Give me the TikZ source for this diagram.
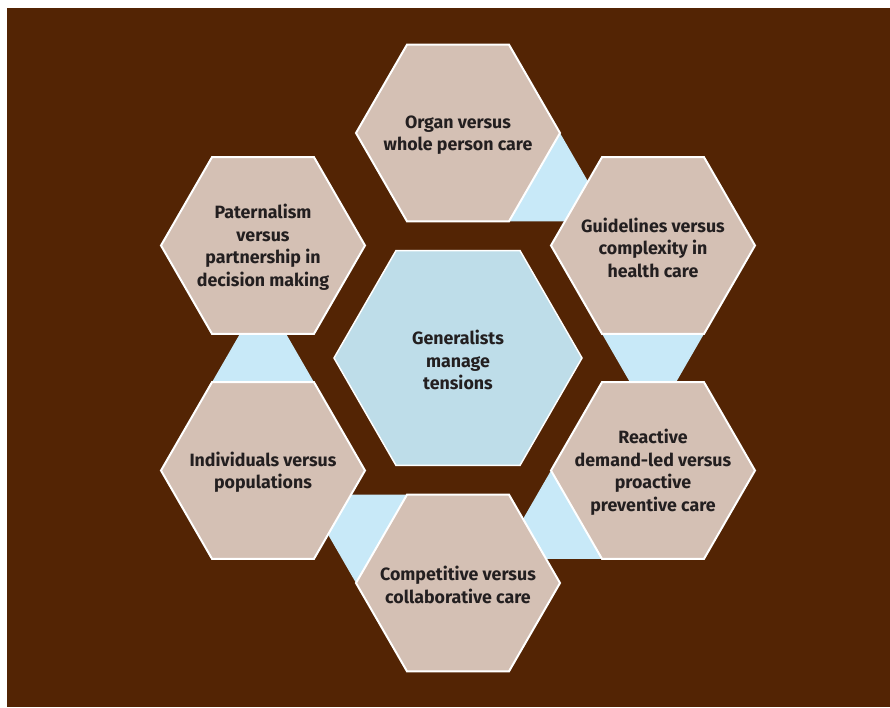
\documentclass[tikz,border=0pt]{standalone}
\usepackage{fontspec}
\setmainfont{Fira Sans}
\usepackage{tikz}
\usetikzlibrary{shapes.geometric, positioning, calc}
\definecolor{bgbrown}{RGB}{83,36,4}
\definecolor{hextan}{RGB}{212,192,180}
\definecolor{hexblue}{RGB}{190,221,233}
\definecolor{linkblue}{RGB}{200,233,248}
\definecolor{inkgrey}{RGB}{35,31,32}
\tikzstyle{hextext} = [text=inkgrey, align=center, inner sep=0pt, yshift=-2pt, font=\bfseries\fontsize{17.8}{22.5}\selectfont]
\tikzstyle{outerhex} = [regular polygon, regular polygon sides=6, minimum size=204pt, inner sep=0pt, outer sep=0pt, draw=white, line width=2pt, fill=hextan]
\tikzstyle{centrehex} = [outerhex, minimum size=248pt, line width=1.5pt, fill=hexblue]
\tikzstyle{link} = [fill=linkblue]
\pgfdeclarelayer{back}
\pgfsetlayers{back,main}

\begin{document}
\begin{tikzpicture}[x=1pt, y=1pt, node distance=225pt, on grid]
\useasboundingbox (-458,-349) rectangle (432,358);
\node (centre) [centrehex, label={[hextext]center:Generalists\\manage\\tensions}] {};
\node (organ) [outerhex, above=of centre, label={[hextext]center:Organ versus\\whole person care}] {};
\node (guidelines) [outerhex, above right=112.5pt and 195pt of centre, label={[hextext]center:Guidelines versus\\complexity in\\health care}] {};
\node (reactive) [outerhex, below right=112.5pt and 195pt of centre, label={[hextext]center:Reactive\\demand-led versus\\proactive\\preventive care}] {};
\node (competitive) [outerhex, below=of centre, label={[hextext]center:Competitive versus\\collaborative care}] {};
\node (individuals) [outerhex, below left=112.5pt and 195pt of centre, label={[hextext]center:Individuals versus\\populations}] {};
\node (paternalism) [outerhex, above left=112.5pt and 195pt of centre, label={[hextext]center:Paternalism\\versus\\partnership in\\decision making}] {};
\begin{pgfonlayer}{back}
\fill [bgbrown] (-451,-349) rectangle (432,350);
\fill [link] (organ.0) -- (organ.-60) -- ($(organ.center)!2!(organ.-30)$) -- cycle;
\fill [link] (guidelines.-60) -- (guidelines.-120) -- ($(guidelines.center)!2!(guidelines.-90)$) -- cycle;
\fill [link] (reactive.-120) -- (reactive.180) -- ($(reactive.center)!2!(reactive.-150)$) -- cycle;
\fill [link] (competitive.180) -- (competitive.120) -- ($(competitive.center)!2!(competitive.150)$) -- cycle;
\fill [link] (individuals.120) -- (individuals.60) -- ($(individuals.center)!2!(individuals.90)$) -- cycle;
\end{pgfonlayer}
\end{tikzpicture}
\end{document}
